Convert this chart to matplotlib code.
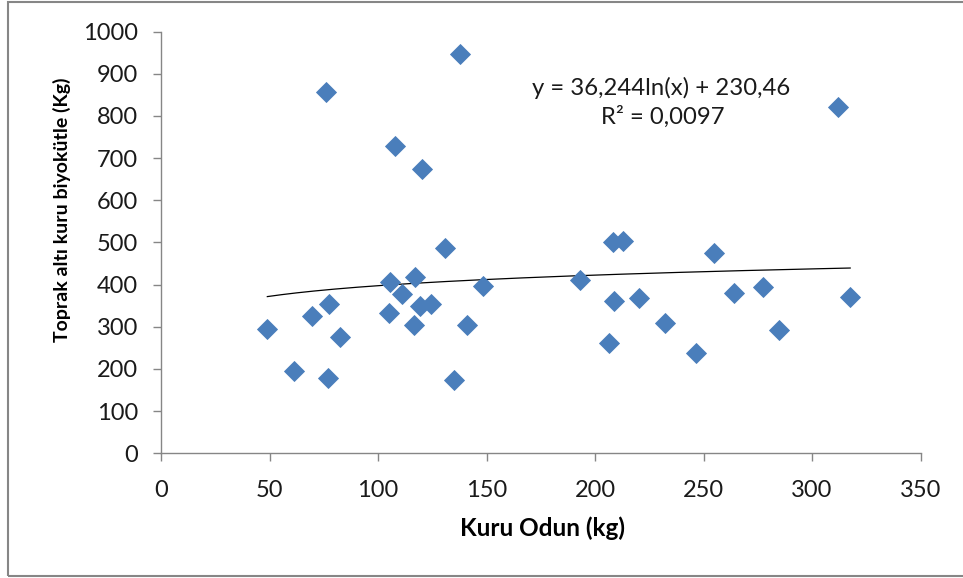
import matplotlib
matplotlib.use("Agg")
import matplotlib.pyplot as plt
from matplotlib.patches import Rectangle
import numpy as np

# Kuru odun (kg) ve toprak altı kuru biyokütle (Kg)
kuru_odun = [76.0, 137.8, 108.0, 120.3, 311.8,
             49.0, 61.1, 69.4, 77.6, 77.1, 82.5, 105.5, 104.9, 111.2,
             117.2, 119.4, 124.4, 116.7, 130.9, 135.0, 148.5, 140.9,
             193.1, 208.4, 212.7, 208.9, 220.1, 206.6, 232.1, 246.7,
             255.0, 263.9, 277.4, 284.6, 317.6]
biyokutle = [856, 947, 728, 674, 822,
             295, 195, 325, 355, 179, 276, 405, 333, 378,
             418, 349, 353, 304, 486, 174, 397, 304,
             410, 501, 504, 361, 367, 261, 310, 237,
             475, 379, 395, 292, 370]

# logaritmik eğilim çizgisi katsayıları (grafikteki denklem)
trend_a = 36.244
trend_b = 230.46
denklem = "y = 36,244ln(x) + 230,46"
r_kare = "R² = 0,0097"

x_ticks = [0, 50, 100, 150, 200, 250, 300, 350]
y_ticks = [0, 100, 200, 300, 400, 500, 600, 700, 800, 900, 1000]

plt.rcParams["font.family"] = ["Lato", "DejaVu Sans"]

W, H = 963, 578
fig = plt.figure(figsize=(W / 100, H / 100), dpi=100)
ax = fig.add_axes([161 / W, 1 - 453.3 / H, (920.5 - 161) / W, (453.3 - 31.5) / H])

ax.plot(kuru_odun, biyokutle, linestyle="none", marker="D", markersize=10.6,
        color="#4A7EBB", markeredgecolor="#4A7EBB", markeredgewidth=0.6, zorder=3)

tx = np.linspace(min(kuru_odun), max(kuru_odun), 200)
ax.plot(tx, trend_a * np.log(tx) + trend_b, color="black", linewidth=0.9, zorder=2)

ax.set_xlim(0, 350)
ax.set_ylim(0, 1000)
ax.set_xticks(x_ticks)
ax.set_yticks(y_ticks)
for s in ["top", "right"]:
    ax.spines[s].set_visible(False)
for s in ["left", "bottom"]:
    ax.spines[s].set_color("#868686")
    ax.spines[s].set_linewidth(1.0)
ax.tick_params(axis="both", direction="out", length=6, width=1.0, color="#868686",
               labelsize=17, labelcolor="#1a1a1a")
ax.tick_params(axis="y", pad=10.5)
ax.tick_params(axis="x", pad=13)

fig.text(660.8 / W, 1 - 88 / H, denklem, ha="center", va="center", fontsize=17.2, color="#1a1a1a")
fig.text(663.3 / W, 1 - 116.5 / H, r_kare, ha="center", va="center", fontsize=17.2, color="#1a1a1a")

fig.text(542 / W, 1 - 528 / H, "Kuru Odun (kg)", ha="center", va="center",
         fontsize=17.5, fontweight="bold")
fig.text(62 / W, 1 - 210 / H, "Toprak altı kuru biyokütle (Kg)", ha="center", va="center",
         rotation=90, fontsize=14, fontweight="bold")

# dış çerçeve
fig.patches.append(Rectangle((8 / W, 2 / H), 1.0, 1 - 4 / H, transform=fig.transFigure,
                             fill=False, edgecolor="#868686", linewidth=1.5))

fig.savefig("out.png", dpi=100)
